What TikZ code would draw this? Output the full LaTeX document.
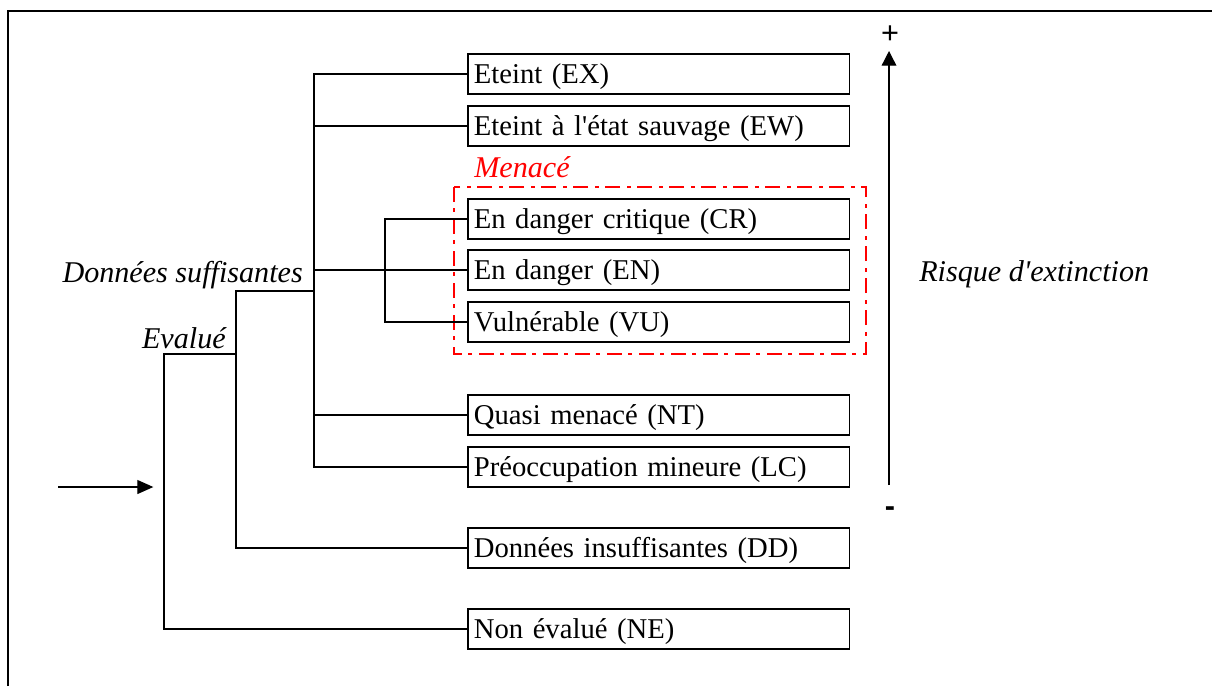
\documentclass[tikz,border=0pt]{standalone}
\usepackage{fontspec}
\setmainfont{Liberation Serif}[Ligatures=TeXOff]
\newfontfamily\signfont{Liberation Sans}
\usepackage{tikz}
\usetikzlibrary{arrows.meta, positioning}
\tikzset{
  catbox/.style={draw, line width=1pt, minimum width=285.75pt, minimum height=30pt,
    text width=277pt, align=left, inner xsep=4.5pt, inner ysep=0pt,
    text height=17.5pt, text depth=4pt,
    font=\fontsize{21.5}{24}\selectfont},
  lbl/.style={inner sep=0pt, font=\fontsize{22.6}{26}\selectfont\itshape},
  sign/.style={inner sep=0pt, font=\fontsize{23}{26}\selectfont\signfont},
  branch/.style={line width=0.8pt},
}

\begin{document}
\begin{tikzpicture}[x=0.75pt,y=-0.75pt]
\useasboundingbox (0,0) rectangle (1212,686);
\draw[line width=1pt] (8,686) -- (8,11) -- (1212,11); % page frame

% categories
\node[catbox] (ex) at (658.5,74) {Eteint (EX)};
\node[catbox] (ew) at (658.5,126) {Eteint à l'état sauvage (EW)};
\node[catbox] (cr) at (658.5,219) {En danger critique (CR)};
\node[catbox] (en) at (658.5,270) {En danger (EN)};
\node[catbox] (vu) at (658.5,322) {Vulnérable (VU)};
\node[catbox] (nt) at (658.5,415) {Quasi menacé (NT)};
\node[catbox] (lc) at (658.5,467) {Préoccupation mineure (LC)};
\node[catbox] (dd) at (658.5,548) {Données insuffisantes (DD)};
\node[catbox] (ne) at (658.5,629) {Non évalué (NE)};

% threatened group
\draw[red, line width=1pt, dash pattern=on 11pt off 5pt on 3pt off 5pt]
  (454,187) rectangle (866,354);
\node[lbl, red, anchor=west] (menace) at (474,167) {Menacé};

% tree
\coordinate (mn) at (385,270);
\coordinate (ds) at (314,291);
\coordinate (ev) at (236,354);
\coordinate (root) at (164,487);
\coordinate (start) at (58,487);
\draw[branch] (cr.west) -| (mn) |- (vu.west);
\draw[branch] (ex.west) -| (ds) |- (lc.west);
\draw[branch] (ew.west) -- (ew.west -| ds);
\draw[branch] (en.west) -- (en.west -| ds);
\draw[branch] (nt.west) -- (nt.west -| ds);
\draw[branch] (ds) -| (ev) |- (dd.west);
\draw[branch] (ev) -| (root) |- (ne.west);
\draw[branch, -{Triangle[length=12pt,width=10.5pt]}, shorten >=8pt] (start) -- (root);

\node[lbl, anchor=east] (suff) at (303,275) {Données suffisantes};
\node[lbl, anchor=east] (evalue) at (226,338) {Evalué};

% risk axis
\coordinate (low) at (889,485);
\coordinate (high) at (889,51);
\draw[line width=1pt, -{Triangle[length=11pt,width=11pt]}] (low) -- (high);
\node[sign] (plus) at (890,35) {+};
\node[sign, font=\fontsize{23}{26}\selectfont\signfont\bfseries] (minus) at (890,512) {-};
\node[lbl, anchor=west] (risque) at (919,274) {Risque d'extinction};
\end{tikzpicture}
\end{document}
